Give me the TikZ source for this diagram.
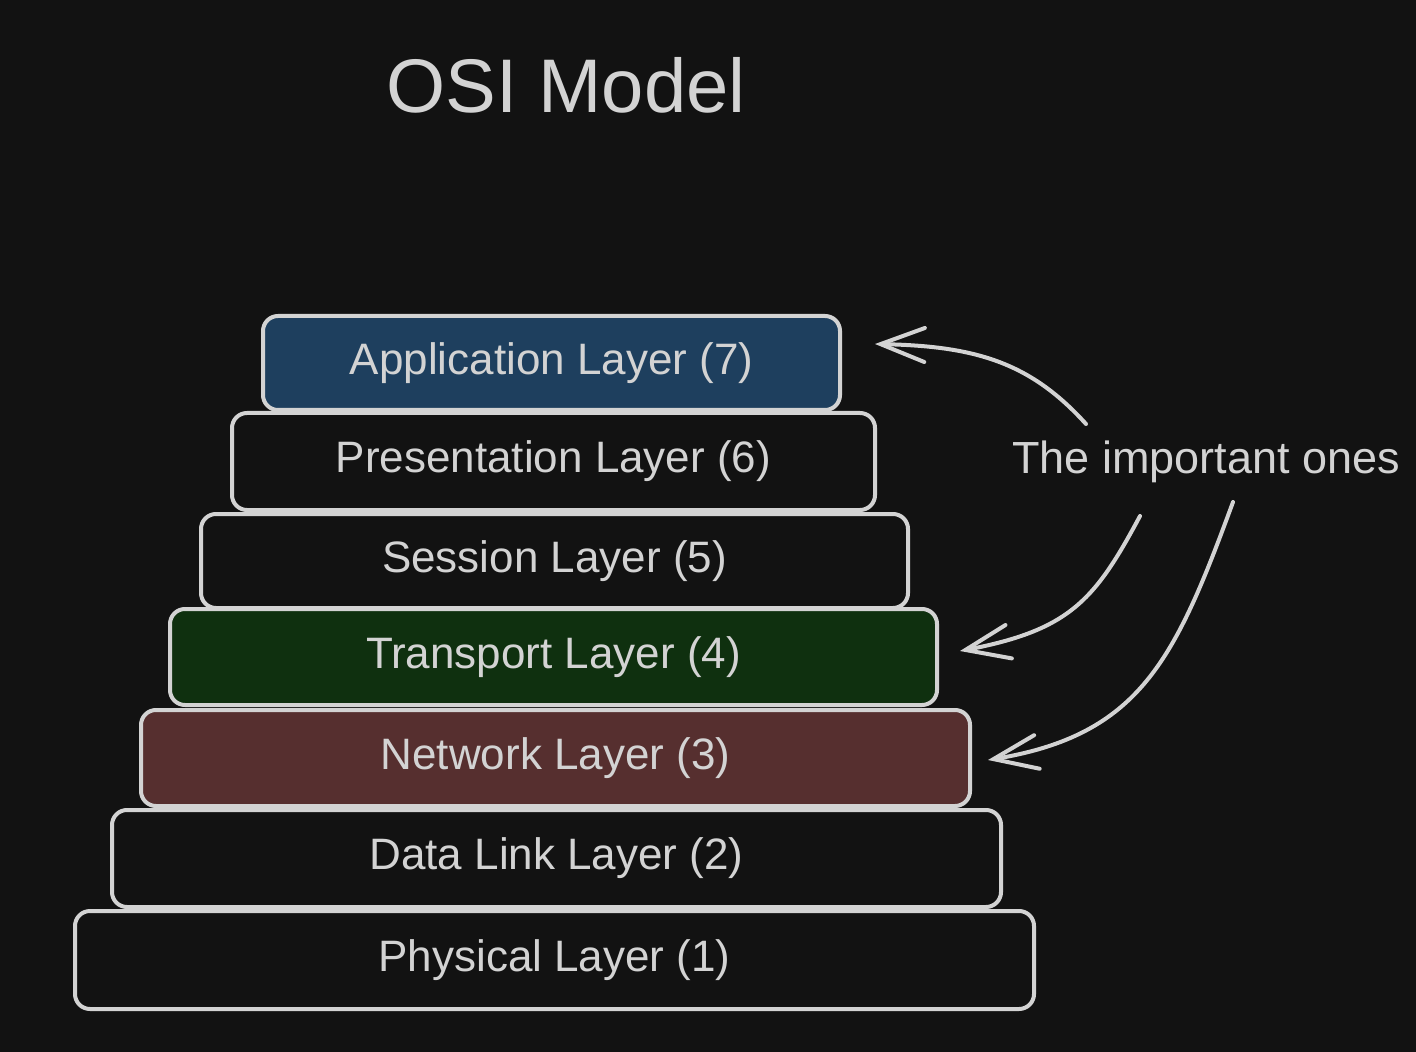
\documentclass[tikz,border=0pt]{standalone}
\usepackage{fontspec}
\setmainfont{Liberation Sans}
\usetikzlibrary{arrows.meta}

\definecolor{bg}{HTML}{121212}
\definecolor{ink}{HTML}{D3D3D3}
\definecolor{appblue}{HTML}{1E3F5E}
\definecolor{tpgreen}{HTML}{0F300F}
\definecolor{netbrown}{HTML}{562F2F}

\begin{document}
\begin{tikzpicture}
      [%%%%%%%%%%%%%%%%%%%%%%%%%%%%%%
      x=0.5pt,y=-0.5pt,
      layer/.style={rectangle,draw=ink,line width=2pt,rounded corners=7.5pt,
        text=ink,font=\fontsize{22}{26}\selectfont},
      note/.style={text=ink,font=\fontsize{22.5}{26}\selectfont},
      pointer/.style={draw=ink,line width=2pt,line cap=round,
        -{Straight Barb[length=22pt,width=17pt,line cap=round]}},
      ]%%%%%%%%%%%%%%%%%%%%%%%%%%%%%%

      \fill[bg] (0,0) rectangle (1416,1052);
      \useasboundingbox (0,0) rectangle (1416,1052);

      \node[text=ink,font=\fontsize{38}{44}\selectfont] (title) at (566,85) {OSI Model};

      \node[layer,fill=appblue,minimum width=288.5pt,minimum height=47pt] (app) at (551.5,363) {Application Layer (7)};
      \node[layer,minimum width=321.5pt,minimum height=48.5pt] (pres) at (553.5,461.5) {Presentation Layer (6)};
      \node[layer,minimum width=353.5pt,minimum height=47pt] (sess) at (554.5,561) {Session Layer (5)};
      \node[layer,fill=tpgreen,minimum width=383.5pt,minimum height=48pt] (trans) at (553.5,657) {Transport Layer (4)};
      \node[layer,fill=netbrown,minimum width=414.5pt,minimum height=48pt] (net) at (555.5,758) {Network Layer (3)};
      \node[layer,minimum width=444.5pt,minimum height=48.5pt] (link) at (556.5,858.5) {Data Link Layer (2)};
      \node[layer,minimum width=479.5pt,minimum height=49pt] (phys) at (554.5,960) {Physical Layer (1)};

      \node[note] (imp) at (1206,462) {The important ones};

      \coordinate (s1) at (1086,424);
      \coordinate (s2) at (1140,516);
      \coordinate (s3) at (1233,502);

      \draw[pointer] (s1) .. controls (1030,362) and (975,346) .. ([xshift=16.5pt,yshift=9.5pt]app.east);
      \draw[pointer] (s2) .. controls (1095,600) and (1070,630) .. ([xshift=10.5pt,yshift=3pt]trans.east);
      \draw[pointer] (s3) .. controls (1175,660) and (1140,735) .. ([xshift=8pt,yshift=-1pt]net.east);
\end{tikzpicture}
\end{document}
